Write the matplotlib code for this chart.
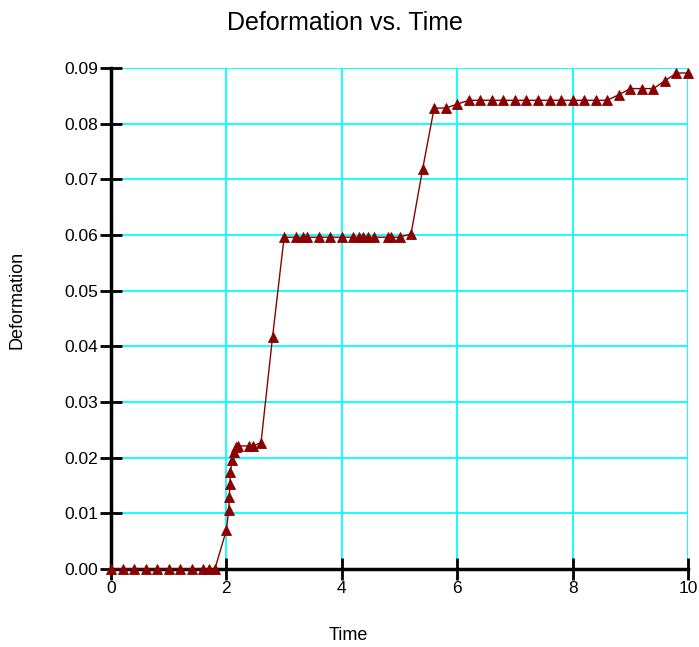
import numpy as np
import matplotlib
matplotlib.use("Agg")
import matplotlib.pyplot as plt

# values
time = [0.0, 0.2, 0.4, 0.6, 0.8, 1.0, 1.2, 1.4, 1.6, 1.7, 1.8,
        2.0, 2.04, 2.05, 2.06, 2.07, 2.1, 2.13, 2.16, 2.2, 2.4, 2.46, 2.6,
        2.8, 3.0, 3.2, 3.33, 3.39, 3.6, 3.8, 4.0, 4.2, 4.3, 4.37, 4.45,
        4.55, 4.8, 4.86, 5.0, 5.2, 5.4, 5.6, 5.8, 6.0,
        6.2, 6.4, 6.6, 6.8, 7.0, 7.2, 7.4, 7.6, 7.8, 8.0, 8.2, 8.4, 8.6,
        8.8, 9.0, 9.2, 9.4, 9.6, 9.8, 10.0]
deformation = [0.0, 0.0, 0.0, 0.0, 0.0, 0.0, 0.0, 0.0, 0.0, 0.0, 0.0,
               0.0070, 0.0106, 0.0130, 0.0152, 0.0175, 0.0195, 0.0211, 0.0219,
               0.0221, 0.0221, 0.0221, 0.0227,
               0.0417, 0.0596, 0.0596, 0.0596, 0.0596, 0.0596, 0.0596, 0.0596,
               0.0596, 0.0596, 0.0596, 0.0596, 0.0596, 0.0596, 0.0596, 0.0596,
               0.0602, 0.0718, 0.0828, 0.0828, 0.0835,
               0.0842, 0.0842, 0.0842, 0.0842, 0.0842, 0.0842, 0.0842, 0.0842,
               0.0842, 0.0842, 0.0842, 0.0842, 0.0842,
               0.0852, 0.0863, 0.0863, 0.0863, 0.0877, 0.0891, 0.0891]

xticks = [0, 2, 4, 6, 8, 10]
yticks = [0.00, 0.01, 0.02, 0.03, 0.04, 0.05, 0.06, 0.07, 0.08, 0.09]

plt.rcParams['font.family'] = ['Liberation Sans', 'DejaVu Sans']

fig = plt.figure(figsize=(6.99, 6.47), dpi=100)
ax = fig.add_axes([0.1588, 0.1206, 0.8255, 0.7743])

ax.plot(time, deformation, color='#8b0000', lw=1.0, marker='^', ms=6.5,
        mew=0.6, clip_on=False, zorder=5)

ax.set_xlim(0, 10)
ax.set_ylim(0, 0.09)
ax.set_xticks(xticks)
ax.set_yticks(yticks)
ax.set_yticklabels(['%.2f' % v for v in yticks])

ax.grid(True, color='#00ffff', lw=1.3)
ax.set_axisbelow(True)

for s in ['top', 'right']:
    ax.spines[s].set_visible(False)
for s in ['left', 'bottom']:
    ax.spines[s].set_linewidth(2.5)
    ax.spines[s].set_zorder(4)

ax.tick_params(direction='inout', length=16, width=2, labelsize=12.5, pad=1)

# title and axis labels sit centred on the figure, not the axes
fig.text(0.494, 0.9536, 'Deformation vs. Time', fontsize=18,
         ha='center', va='baseline')
fig.text(0.499, 0.0108, 'Time', fontsize=13, ha='center', va='baseline')
fig.text(0.025, 0.536, 'Deformation', fontsize=13, rotation=90,
         ha='center', va='center')

fig.savefig('out.png', dpi=100)
